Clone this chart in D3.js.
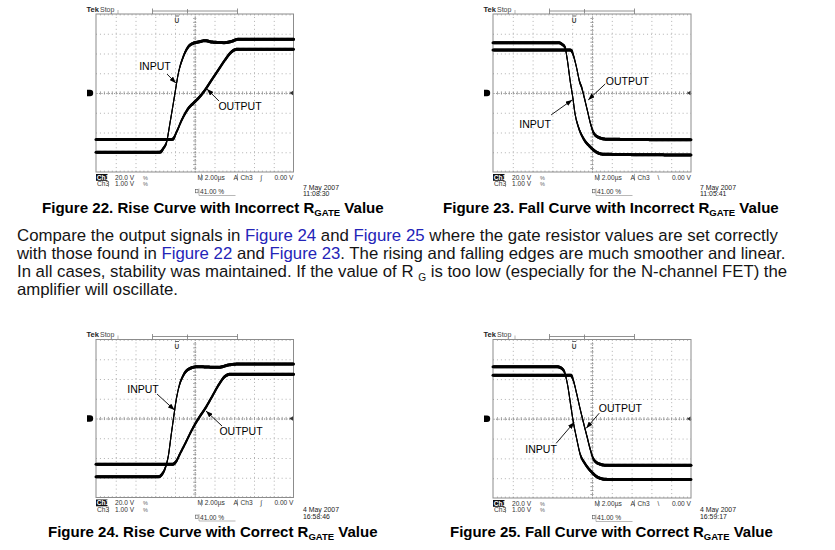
<!DOCTYPE html>
<html><head><meta charset="utf-8">
<script src="https://cdn.jsdelivr.net/npm/d3@7"></script>
<style>body{margin:0;background:#fff} svg{display:block}</style>
</head><body>
<svg id="c" width="835" height="550"></svg>
<script>
// ---------------- DATA ----------------
// time in µs (2.00 µs/div, 10 div), level in vertical divisions from the centre line
const timeDomain = [0, 20];
const levelDomain = [-4, 4];
const figureNumbers = [22, 23, 24, 25];
const figureTitles = ["Rise Curve with Incorrect", "Fall Curve with Incorrect", "Rise Curve with Correct", "Fall Curve with Correct"];
const triggerSlopes = ["∫", "\\", "∫", "\\"];
const scopeDates = ["7 May 2007", "7 May 2007", "4 May 2007", "4 May 2007"];
const scopeTimes = ["11:08:30", "11:05:41", "16:58:46", "16:59:17"];
const ch1Scale = "20.0 V";
const ch3Scale = "1.00 V";
const timebase = "M 2.00µs";
const triggerLevel = "0.00 V";
const triggerPercent = 41.00;

const fig22Input = [[0,-3.0],[6.48,-3.0],[6.82,-2.8],[7.16,-2.46],[7.49,-1.53],[7.83,-0.52],[8.0,0],[8.34,1.0],[8.84,1.84],[9.35,2.34],[9.85,2.52],[10.36,2.58],[11.04,2.65],[11.75,2.58],[13.06,2.55],[13.77,2.62],[14.38,2.72],[20,2.72]];
const fig22Output = [[0,-2.35],[7.73,-2.35],[8.17,-1.96],[8.68,-1.37],[9.35,-0.78],[9.85,-0.52],[10.36,-0.27],[11.04,0.15],[11.71,0.66],[12.38,1.16],[13.06,1.67],[13.74,2.09],[14.25,2.21],[20,2.21]];
const fig23Input = [[0,2.55],[6.6,2.55],[6.94,2.48],[7.27,2.31],[7.51,1.67],[7.78,0.66],[8.05,-0.19],[8.28,-1.03],[8.62,-1.71],[9.12,-2.29],[9.8,-2.72],[10.47,-3.0],[11.14,-3.1],[20,-3.14]];
const fig23Output = [[0,2.18],[7.84,2.18],[8.11,1.92],[8.42,1.33],[8.75,0.57],[8.95,0.29],[9.2,-0.19],[9.52,-0.86],[9.84,-1.53],[10.15,-2.0],[10.64,-2.24],[11.48,-2.34],[20,-2.37]];
const fig24Input = [[0,-2.95],[6.33,-2.95],[6.67,-2.83],[7.0,-2.52],[7.34,-1.85],[7.61,-0.84],[7.85,0.01],[8.09,0.85],[8.36,1.53],[8.86,2.2],[9.54,2.54],[10.22,2.62],[12.42,2.59],[13.43,2.71],[14.45,2.76],[20,2.76]];
const fig24Output = [[0,-2.32],[7.75,-2.32],[8.09,-2.19],[8.53,-1.76],[9.04,-1.26],[9.71,-0.58],[10.39,0.01],[11.07,0.52],[11.74,1.1],[12.42,1.7],[13.03,2.12],[13.6,2.24],[20,2.24]];
const fig25Input = [[0,2.62],[6.53,2.62],[6.94,2.54],[7.27,2.28],[7.54,1.69],[7.85,0.68],[8.11,-0.16],[8.45,-1.0],[8.79,-1.76],[9.29,-2.26],[9.97,-2.69],[10.64,-2.97],[11.48,-3.06],[20,-3.07]];
const fig25Output = [[0,2.2],[7.84,2.2],[8.11,1.94],[8.45,1.27],[8.79,0.52],[9.12,-0.16],[9.46,-0.83],[9.8,-1.5],[10.13,-2.01],[10.64,-2.26],[11.48,-2.35],[20,-2.35]];
const inputSeries = [fig22Input, fig23Input, fig24Input, fig25Input];
const outputSeries = [fig22Output, fig23Output, fig24Output, fig25Output];

// annotation anchors (µs, div)
const inputLabelAt = [[5.97,1.37],[4.25,-1.57],[4.76,1.49],[4.86,-1.54]];
const inputArrowFrom = [[7.19,0.96],[5.87,-1.11],[6.18,1.24],[6.38,-1.24]];
const inputArrowTo = [[8.1,0.5],[8.0,-0.35],[7.95,0.43],[8.2,-0.18]];
const outputLabelAt = [[14.58,-0.66],[13.57,0.61],[14.68,-0.63],[12.86,0.53]];
const outputArrowFrom = [[12.46,-0.41],[11.34,0.46],[12.76,-0.38],[10.73,0.28]];
const outputArrowTo = [[11.24,0.2],[9.62,-0.35],[11.14,0.38],[9.42,-0.48]];

const paragraphLines = [
  [["Compare the output signals in ",0],["Figure 24",1],[" and ",0],["Figure 25",1],[" where the gate resistor values are set correctly",0]],
  [["with those found in ",0],["Figure 22",1],[" and ",0],["Figure 23",1],[". The rising and falling edges are much smoother and linear.",0]],
  [["In all cases, stability was maintained. If the value of R ",0],["G",2],[" is too low (especially for the N-channel FET) the",0]],
  [["amplifier will oscillate.",0]]
];

// ---------------- LAYOUT ----------------
const panelLayout = [
  {x:96,  y:14,    w:197.5, h:158, capX:42,  capW:342, capY:213, dateY:190, timeY:195.5},
  {x:493, y:14,    w:198,   h:158, capX:443, capW:336, capY:213, dateY:190, timeY:195.5},
  {x:96,  y:339.5, w:197.5, h:158, capX:48,  capW:330, capY:537.5, dateY:512, timeY:518.5},
  {x:493, y:339.5, w:198,   h:158.5, capX:450, capW:323, capY:537.5, dateY:512, timeY:518.5}
];
const paraLayout = {x:17, y0:241.5, dy:18, widths:[762,770,770,161]};
const FONT = "'Liberation Sans', Arial, Helvetica, sans-serif";

const svg = d3.select("#c");
svg.append("rect").attr("width",835).attr("height",550).attr("fill","#fff");
svg.append("defs").append("marker").attr("id","ah").attr("viewBox","0 0 8 6")
  .attr("refX",8).attr("refY",3).attr("markerWidth",7).attr("markerHeight",5)
  .attr("markerUnits","userSpaceOnUse").attr("orient","auto")
  .append("path").attr("d","M0,0L8,3L0,6z").attr("fill","#000");

function fitX(sel, x0, target){
  const bb = sel.node().getBBox();
  const k = target / bb.width;
  sel.attr("transform", `translate(${x0},0) scale(${k},1) translate(${-x0},0)`);
}

function drawTrace(g, data, x, y){
  const line = d3.line().x(d=>x(d[0])).y(d=>y(d[1])).curve(d3.curveMonotoneX);
  const path = g.append("path").attr("d", line(data)).attr("fill","none")
    .attr("stroke","#000").attr("stroke-width",1.1);
  const node = path.node(), L = node.getTotalLength();
  const pts = [];
  for (let s=0; s<L; s+=1.2) pts.push(node.getPointAtLength(s));
  pts.push(node.getPointAtLength(L));
  const segs = [];
  for (let i=0;i<pts.length-1;i++){
    const a = pts[Math.max(0,i-2)], b = pts[Math.min(pts.length-1,i+3)];
    const sl = Math.abs(b.y-a.y)/Math.max(Math.abs(b.x-a.x),1e-6);
    const w = Math.max(1.1, 3.0/Math.sqrt(1+(sl/1.8)**2));
    segs.push({a:pts[i], b:pts[i+1], w});
  }
  g.append("g").selectAll("line").data(segs).join("line")
    .attr("x1",d=>d.a.x).attr("y1",d=>d.a.y).attr("x2",d=>d.b.x).attr("y2",d=>d.b.y)
    .attr("stroke","#000").attr("stroke-width",d=>d.w).attr("stroke-linecap","round");
}

panelLayout.forEach((p,i)=>{
  const g = svg.append("g");
  const x = d3.scaleLinear().domain(timeDomain).range([p.x, p.x+p.w]);
  const y = d3.scaleLinear().domain(levelDomain).range([p.y+p.h, p.y]);
  const cy = y(0), cx = x(10);

  // dotted grid from axes
  const gv = g.append("g").attr("transform",`translate(0,${p.y+p.h})`)
    .call(d3.axisBottom(x).tickValues(d3.range(2,20,2)).tickSizeInner(-p.h).tickSizeOuter(0).tickFormat(""));
  const gh = g.append("g").attr("transform",`translate(${p.x},0)`)
    .call(d3.axisLeft(y).tickValues([-3,-2,-1,1,2,3]).tickSizeInner(-p.w).tickSizeOuter(0).tickFormat(""));
  [gv,gh].forEach(a=>{ a.select(".domain").remove();
    a.selectAll("line").attr("stroke","#a8a8a8").attr("stroke-width",0.9).attr("stroke-dasharray","1,2.95"); });

  // centre lines with minor ticks
  const minorX = d3.range(0.4,20,0.4), minorY = d3.range(-3.8,4,0.2);
  [d3.axisTop(x), d3.axisBottom(x)].forEach(ax=>{
    const a = g.append("g").attr("transform",`translate(0,${cy})`).call(ax.tickValues(minorX).tickSizeInner(1.6).tickSizeOuter(0).tickFormat(""));
    a.select(".domain").attr("stroke","#9a9a9a").attr("stroke-width",0.8).attr("stroke-dasharray","1,1.5");
    a.selectAll("line").attr("stroke","#8a8a8a").attr("stroke-width",0.8);
  });
  [d3.axisLeft(y), d3.axisRight(y)].forEach(ax=>{
    const a = g.append("g").attr("transform",`translate(${cx},0)`).call(ax.tickValues(minorY).tickSizeInner(1.6).tickSizeOuter(0).tickFormat(""));
    a.select(".domain").attr("stroke","#9a9a9a").attr("stroke-width",0.8).attr("stroke-dasharray","1,1.5");
    a.selectAll("line").attr("stroke","#8a8a8a").attr("stroke-width",0.8);
  });
  // edge ticks
  const et = g.append("g").attr("transform",`translate(0,${p.y})`).call(d3.axisBottom(x).tickValues(minorX).tickSizeInner(1.5).tickSizeOuter(0).tickFormat(""));
  const eb = g.append("g").attr("transform",`translate(0,${p.y+p.h})`).call(d3.axisTop(x).tickValues(minorX).tickSizeInner(1.5).tickSizeOuter(0).tickFormat(""));
  [et,eb].forEach(a=>{a.select(".domain").remove(); a.selectAll("line").attr("stroke","#a0a0a0").attr("stroke-width",0.7);});

  // frame
  g.append("rect").attr("x",p.x).attr("y",p.y).attr("width",p.w).attr("height",p.h)
    .attr("fill","none").attr("stroke","#8c8c8c").attr("stroke-width",1);

  // top decorations
  g.append("text").attr("x",p.x-9.5).attr("y",p.y-2.5).attr("font-family",FONT).attr("font-weight","bold")
    .attr("font-size",7.5).attr("fill","#222").text("Tek");
  g.append("text").attr("x",p.x+4).attr("y",p.y-2.5).attr("font-family",FONT)
    .attr("font-size",7).attr("fill","#444").text("Stop");
  const bx0 = p.x+56.5, bx1 = p.x+141.5, bm = p.x+91.5, by = p.y-3;
  g.append("path").attr("d",`M${bx0},${by-2.5}V${by+3}M${bx0},${by}H${bx1}M${bx1},${by-2.5}V${by+3}M${bm},${by-2}V${by+2.5}`)
    .attr("fill","none").attr("stroke","#777").attr("stroke-width",0.8);
  g.append("path").attr("d",`M${p.x+22},${p.y-4}V${p.y}`).attr("stroke","#999").attr("stroke-width",0.7);
  const tx = x(triggerPercent/100*timeDomain[1]);
  g.append("path").attr("d",`M${tx-2},${p.y+2}H${tx+2}`).attr("stroke","#555").attr("stroke-width",0.9);
  g.append("text").attr("x",tx).attr("y",p.y+9).attr("text-anchor","middle").attr("font-family",FONT)
    .attr("font-weight","bold").attr("font-size",6.5).attr("fill","#444").text("U");
  // ground marker & trigger level marker
  g.append("path").attr("d",`M${p.x-9},${cy-3.2}h3a3.2,3.2 0 0 1 0,6.4h-3z`).attr("fill","#000");
  g.append("path").attr("d",`M${p.x+p.w-0.5},${cy-2.3}L${p.x+p.w-4},${cy}L${p.x+p.w-0.5},${cy+2.3}z`).attr("fill","#333");

  // traces
  drawTrace(g, outputSeries[i], x, y);
  drawTrace(g, inputSeries[i], x, y);

  // annotations
  const ann = [["INPUT", inputLabelAt[i], inputArrowFrom[i], inputArrowTo[i]],
               ["OUTPUT", outputLabelAt[i], outputArrowFrom[i], outputArrowTo[i]]];
  ann.forEach(([t, at, fr, to])=>{
    g.append("text").attr("x",x(at[0])).attr("y",y(at[1])).attr("dy","0.36em")
      .attr("text-anchor","middle").attr("font-family",FONT).attr("font-size",10.5).attr("fill","#000").text(t);
    g.append("line").attr("x1",x(fr[0])).attr("y1",y(fr[1])).attr("x2",x(to[0])).attr("y2",y(to[1]))
      .attr("stroke","#000").attr("stroke-width",0.9).attr("marker-end","url(#ah)");
  });

  // bottom readout
  const b = p.y+p.h, fs = 6.6;
  const t = (xx,yy,s,opt={})=>g.append("text").attr("x",xx).attr("y",yy).attr("font-family",FONT)
      .attr("font-size",opt.fs||fs).attr("fill",opt.fill||"#333").attr("text-anchor",opt.anchor||"start")
      .attr("font-weight",opt.fw||"normal").text(s);
  g.append("rect").attr("x",p.x).attr("y",b+2).attr("width",11.5).attr("height",6.8).attr("fill","#111");
  t(p.x+0.8,b+7.6,"Ch1",{fill:"#fff",fw:"bold"});
  t(p.x+19,b+7.6,ch1Scale);
  t(p.x+47,b+7.6,"%",{fs:5.5,fill:"#666"});
  t(p.x+1,b+14.2,"Ch3");
  g.append("path").attr("d",`M${p.x+12.5},${b+9}V${b+15}`).attr("stroke","#777").attr("stroke-width",0.6);
  t(p.x+19,b+14.2,ch3Scale);
  t(p.x+47,b+14.2,"%",{fs:5.5,fill:"#666"});
  t(p.x+101.5,b+7.6,timebase);
  g.append("path").attr("d",`M${p.x+105.5},${b+1.8}V${b+8.8}M${p.x+141.5},${b+1.8}V${b+8.8}`).attr("stroke","#777").attr("stroke-width",0.6);
  t(p.x+137.5,b+7.6,"A");
  t(p.x+144.5,b+7.6,"Ch3");
  t(p.x+164.5,b+7.6,triggerSlopes[i]);
  t(p.x+p.w,b+7.6,triggerLevel,{anchor:"end"});
  g.append("rect").attr("x",p.x+99.5).attr("y",b+17.6).attr("width",2.6).attr("height",3.2).attr("fill","none").attr("stroke","#555").attr("stroke-width",0.6);
  g.append("path").attr("d",`M${p.x+103},${b+16.5}V${b+23.5}H${p.x+139.5}`).attr("fill","none").attr("stroke","#888").attr("stroke-width",0.6);
  t(p.x+104,b+22.2, triggerPercent.toFixed(2)+" %");
  t(p.x+207,p.dateY,scopeDates[i],{fs:6.9,fill:"#222"});
  t(p.x+207,p.timeY,scopeTimes[i],{fs:6.9,fill:"#222"});

  // caption
  const cap = svg.append("text").attr("x",p.capX).attr("y",p.capY).attr("font-family",FONT)
    .attr("font-weight","bold").attr("font-size",15).attr("fill","#000");
  cap.append("tspan").text(`Figure ${figureNumbers[i]}. ${figureTitles[i]} R`);
  cap.append("tspan").attr("font-size",9.5).attr("dy",2.8).text("GATE");
  cap.append("tspan").attr("dy",-2.8).text(" Value");
  fitX(cap, p.capX, p.capW);
});

// paragraph
paragraphLines.forEach((segs, li)=>{
  const yy = paraLayout.y0 + li*paraLayout.dy;
  const tx = svg.append("text").attr("x",paraLayout.x).attr("y",yy).attr("font-family",FONT)
    .attr("font-size",16.5).attr("fill","#141414");
  segs.forEach(([s,k])=>{
    const sp = tx.append("tspan").text(s);
    if (k===1) sp.attr("fill","#2424b8");
    if (k===2) { sp.attr("font-size",10).attr("dy",3.5); }
    else if (li===2 && s.startsWith(" is")) sp.attr("dy",-3.5);
  });
  fitX(tx, paraLayout.x, paraLayout.widths[li]);
});
</script>
</body></html>
